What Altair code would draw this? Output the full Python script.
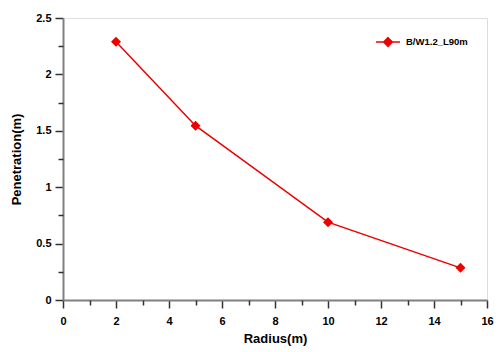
import altair as alt
import pandas as pd

radius = [2, 5, 10, 15]
penetration = [2.29, 1.545, 0.69, 0.285]
series = "B/W1.2_L90m"

x_major = [0, 2, 4, 6, 8, 10, 12, 14, 16]
x_minor = [1, 3, 5, 7, 9, 11, 13, 15]
y_major = [0, 0.5, 1, 1.5, 2, 2.5]
y_minor = [0.25, 0.75, 1.25, 1.75, 2.25]

df = pd.DataFrame({"Radius": radius, "Penetration": penetration, "Series": [series] * len(radius)})

FONT = "Liberation Sans"
RED = "#ee0000"
GREY = "#808080"

xscale = alt.Scale(domain=[0, 16], nice=False, zero=False)
yscale = alt.Scale(domain=[0, 2.5], nice=False, zero=False)

x_axis = alt.Axis(values=x_major, title="Radius(m)", grid=False, domainColor=GREY, domainWidth=2,
                  tickColor="#333333", tickSize=8, tickWidth=1.5, labelFont=FONT, labelFontWeight="bold",
                  labelFontSize=11, labelColor="black", labelPadding=7, titleFont=FONT,
                  titleFontWeight="bold", titleFontSize=13, titleColor="black", titlePadding=6,
                  labelFlush=False, orient="bottom")
y_axis = alt.Axis(values=y_major, title="Penetration(m)", grid=False, domainColor=GREY, domainWidth=2,
                  tickColor="#333333", tickSize=8, tickWidth=1.5, labelFont=FONT, labelFontWeight="bold",
                  labelFontSize=11, labelColor="black", labelPadding=4, titleFont=FONT,
                  titleFontWeight="bold", titleFontSize=13, titleColor="black", titlePadding=12,
                  labelFlush=False, orient="left", format="~g")

x_minor_axis = alt.Axis(values=x_minor, title=None, grid=False, domain=False, labels=False,
                        tickColor="#333333", tickSize=5, tickWidth=1.5, orient="bottom")
y_minor_axis = alt.Axis(values=y_minor, title=None, grid=False, domain=False, labels=False,
                        tickColor="#333333", tickSize=5, tickWidth=1.5, orient="left")

legend = alt.Legend(title=None, orient="none", legendX=312, legendY=11, padding=0,
                    symbolType="M-1,0L1,0M0,-0.36L0.36,0L0,0.36L-0.36,0Z",
                    symbolSize=576, symbolStrokeWidth=1.5, symbolFillColor=RED,
                    labelFont=FONT, labelFontWeight="bold", labelFontSize=9.5, labelColor="black",
                    labelOffset=5)

color = alt.Color("Series:N", scale=alt.Scale(range=[RED]), legend=legend)

line = alt.Chart(df).mark_line(strokeWidth=1.5).encode(
    x=alt.X("Radius:Q", scale=xscale, axis=x_axis),
    y=alt.Y("Penetration:Q", scale=yscale, axis=y_axis),
    color=color,
)
points = alt.Chart(df).mark_point(shape="diamond", filled=True, size=100, opacity=1).encode(
    x=alt.X("Radius:Q", scale=xscale, axis=x_minor_axis),
    y=alt.Y("Penetration:Q", scale=yscale, axis=y_minor_axis),
    color=color,
)

chart = alt.layer(line, points).resolve_axis(x="independent", y="independent").properties(
    width=424, height=282,
    autosize=alt.AutoSizeParams(type="none"),
    padding={"left": 63, "top": 18, "right": 12, "bottom": 52},
).configure_view(stroke=None).configure(background="white")

chart.save("out.html", embed_options={"renderer": "svg", "actions": False})
